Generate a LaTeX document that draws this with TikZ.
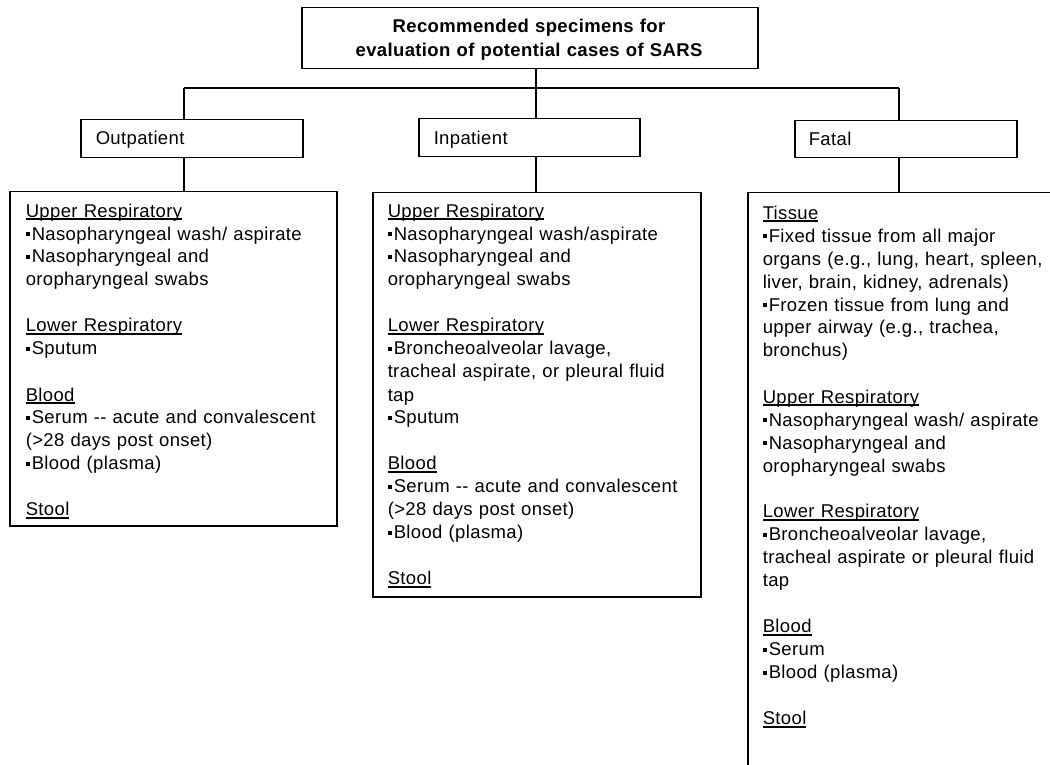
\documentclass[tikz,border=0pt]{standalone}
\usepackage{fontspec}
\setmainfont{Liberation Sans}[LetterSpace=2]
% underlined heading: rule just under the baseline
\newcommand\hd[1]{\leavevmode\setbox0\hbox{#1}\rlap{\rule[-2.6pt]{\wd0}{1.2pt}}\box0}
% small square bullet
\newcommand\bul{\rule[4pt]{3.8pt}{3.8pt}\hspace{2.2pt}}
\begin{document}
\begin{tikzpicture}[x=1pt,y=-1pt,line width=1.5pt,
  box/.style={draw,line width=1.5pt,inner sep=0pt,anchor=north west},
  lbl/.style={anchor=base west,inner sep=0pt,font=\fontsize{18.5}{23}\selectfont},
  body/.style={anchor=base west,inner sep=0pt,text width=320pt,align=left,
               font=\fontsize{18.5}{23}\selectfont},
  ]
\useasboundingbox (0,0) rectangle (1050,765);
\clip (0,0) rectangle (1050,765);

% title
\node[box,minimum width=456pt,minimum height=61pt] (title) at (301,7) {};
\node[anchor=base,inner sep=0pt,text width=440pt,align=center,
      font=\bfseries\fontsize{18.5}{24}\selectfont] (titletext) at (529,33)
  {Recommended specimens for\\evaluation of potential cases of SARS};

% category boxes
\node[box,minimum width=222pt,minimum height=38pt] (out) at (80,119) {};
\node[box,minimum width=221pt,minimum height=38pt] (inp) at (418,118) {};
\node[box,minimum width=222pt,minimum height=37pt] (fat) at (794,120) {};
\node[lbl] (outtext) at (95,145) {Outpatient};
\node[lbl] (inptext) at (433,145) {Inpatient};
\node[lbl] (fattext) at (808,146) {Fatal};

% specimen boxes
\node[box,minimum width=327pt,minimum height=334pt] (outB) at (9,191) {};
\node[box,minimum width=328pt,minimum height=404pt] (inpB) at (372,192) {};
\node[box,minimum width=330pt,minimum height=600pt] (fatB) at (747,192) {};

% connectors
\coordinate (sOut) at (184,88);
\coordinate (sIn) at (536,88);
\coordinate (sFat) at (899,88);
\draw (sOut) -- (sFat);
\draw (sIn |- title.south) -- (sIn |- inp.north);
\draw (sOut) -- (sOut |- out.north);
\draw (sFat) -- (sFat |- fat.north);
\draw (sOut |- out.south) -- (sOut |- outB.north);
\draw (sIn |- inp.south) -- (sIn |- inpB.north);
\draw (sFat |- fat.south) -- (sFat |- fatB.north);

\node[body] (outlist) at (25,217) {%
\hd{Upper Respiratory}\\
\bul Nasopharyngeal wash/ aspirate\\
\bul Nasopharyngeal and\\
oropharyngeal swabs\\[23pt]
\hd{Lower Respiratory}\\
\bul Sputum\\[23pt]
\hd{Blood}\\
\bul Serum -{}- acute and convalescent\\
(>28 days post onset)\\
\bul Blood (plasma)\\[23pt]
\hd{Stool}};

\node[body] (inplist) at (387,217) {%
\hd{Upper Respiratory}\\
\bul Nasopharyngeal wash/aspirate\\
\bul Nasopharyngeal and\\
oropharyngeal swabs\\[23pt]
\hd{Lower Respiratory}\\
\bul Broncheoalveolar lavage,\\
tracheal aspirate, or pleural fluid\\
tap\\
\bul Sputum\\[23pt]
\hd{Blood}\\
\bul Serum -{}- acute and convalescent\\
(>28 days post onset)\\
\bul Blood (plasma)\\[23pt]
\hd{Stool}};

\node[body] (fatlist) at (762,219) {%
\hd{Tissue}\\
\bul Fixed tissue from all major\\
organs (e.g., lung, heart, spleen,\\
liver, brain, kidney, adrenals)\\
\bul Frozen tissue from lung and\\
upper airway (e.g., trachea,\\
bronchus)\\[23pt]
\hd{Upper Respiratory}\\
\bul Nasopharyngeal wash/ aspirate\\
\bul Nasopharyngeal and\\
oropharyngeal swabs\\[23pt]
\hd{Lower Respiratory}\\
\bul Broncheoalveolar lavage,\\
tracheal aspirate or pleural fluid\\
tap\\[23pt]
\hd{Blood}\\
\bul Serum\\
\bul Blood (plasma)\\[23pt]
\hd{Stool}};
\end{tikzpicture}
\end{document}
